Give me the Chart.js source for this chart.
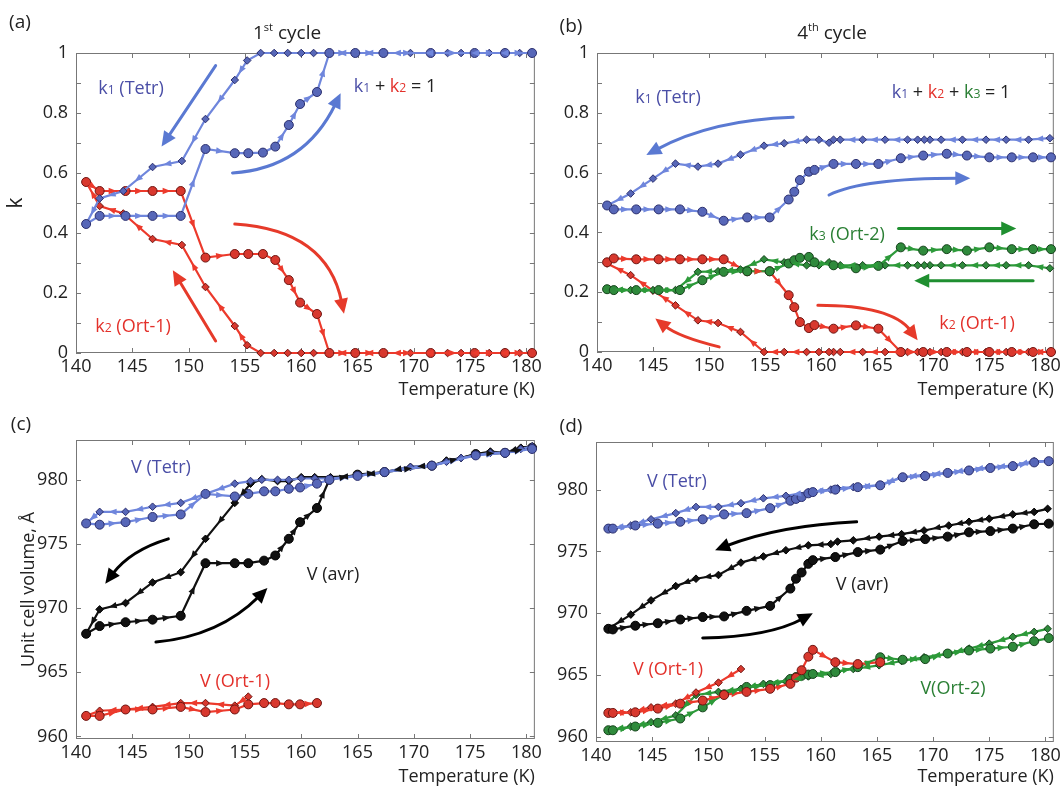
<!DOCTYPE html>
<html>
<head>
<meta charset="utf-8">
<script src="https://cdn.jsdelivr.net/npm/chart.js@4.4.1/dist/chart.umd.min.js"></script>
<style>
  body { margin: 0; background: #fff; }
  #fig { position: relative; width: 1064px; height: 788px; background: #fff; overflow: hidden;
         font-family: "Open Sans", sans-serif; color: #222; }
  #fig canvas { position: absolute; }
  .lbl { position: absolute; white-space: nowrap; font-size: 18px; line-height: 1;
         transform: translate(-50%, -50%); }
  .lbl .s { font-size: 68%; }
  .lbl sup { font-size: 58%; vertical-align: 0.7em; line-height: 0; }
  .big { font-size: 19px; }
  .tetr { color: #4a4ea6; }
  .ort1 { color: #e3312b; }
  .ort2 { color: #2a7f34; }
</style>
</head>
<body>
<div id="fig">
  <canvas id="chartC" width="545" height="398" style="left:0;top:390px"></canvas>
  <canvas id="chartD" width="544" height="398" style="left:520px;top:390px"></canvas>
  <canvas id="chartA" width="545" height="401" style="left:0;top:0"></canvas>
  <canvas id="chartB" width="544" height="401" style="left:520px;top:0"></canvas>

  <div class="lbl big" style="left:20px;top:21px">(a)</div>
  <div class="lbl big" style="left:287px;top:32px">1<sup>st</sup> cycle</div>
  <div class="lbl tetr" style="left:131px;top:87px">k<span class="s">1</span> (Tetr)</div>
  <div class="lbl" style="left:395px;top:85px"><span class="tetr">k<span class="s">1</span></span> + <span class="ort1">k<span class="s">2</span></span> = 1</div>
  <div class="lbl ort1" style="left:133px;top:325px">k<span class="s">2</span> (Ort-1)</div>

  <div class="lbl big" style="left:571px;top:25px">(b)</div>
  <div class="lbl big" style="left:832px;top:32px">4<sup>th</sup> cycle</div>
  <div class="lbl tetr" style="left:668px;top:96px">k<span class="s">1</span> (Tetr)</div>
  <div class="lbl" style="left:951px;top:91px"><span class="tetr">k<span class="s">1</span></span> + <span class="ort1">k<span class="s">2</span></span> + <span class="ort2">k<span class="s">3</span></span> = 1</div>
  <div class="lbl ort2" style="left:847px;top:233px">k<span class="s">3</span> (Ort-2)</div>
  <div class="lbl ort1" style="left:977px;top:322px">k<span class="s">2</span> (Ort-1)</div>

  <div class="lbl big" style="left:21px;top:423px">(c)</div>
  <div class="lbl tetr" style="left:161px;top:466px">V (Tetr)</div>
  <div class="lbl" style="left:333px;top:573px">V (avr)</div>
  <div class="lbl ort1" style="left:235px;top:680px">V (Ort-1)</div>

  <div class="lbl big" style="left:571px;top:425px">(d)</div>
  <div class="lbl tetr" style="left:677px;top:480px">V (Tetr)</div>
  <div class="lbl" style="left:862px;top:583px">V (avr)</div>
  <div class="lbl ort1" style="left:668px;top:668px">V (Ort-1)</div>
  <div class="lbl ort2" style="left:953px;top:687px">V(Ort-2)</div>
</div>

<script>
// axis ticks
const T_TICKS = [140, 145, 150, 155, 160, 165, 170, 175, 180];
const K_TICKS = [0, 0.2, 0.4, 0.6, 0.8, 1];
const K_MINOR = [0.1, 0.3, 0.5, 0.7, 0.9];
const V_TICKS = [960, 965, 970, 975, 980];

// (a) 1st cycle, phase fractions
const A_T_HEAT = [140.9, 142.1, 144.4, 146.8, 149.3, 151.5, 154.1, 155.3, 156.6, 157.7, 158.9, 159.9, 161.4, 162.5, 164.8, 167.3, 171.5, 175.4, 178.1, 180.5];
const A_K1_HEAT = [0.43, 0.457, 0.457, 0.457, 0.457, 0.68, 0.666, 0.666, 0.668, 0.688, 0.76, 0.83, 0.87, 1, 1, 1, 1, 1, 1, 1];
const A_K2_HEAT = [0.57, 0.54, 0.54, 0.54, 0.54, 0.318, 0.33, 0.33, 0.33, 0.31, 0.243, 0.168, 0.13, 0, 0, 0, 0, 0, 0, 0];
const A_T_COOL = [180.5, 179.4, 176.7, 174.2, 173.0, 169.7, 167.3, 164.8, 162.5, 161.1, 160.0, 158.8, 157.6, 156.4, 155.2, 154.1, 151.5, 149.4, 146.8, 144.2, 142.1, 140.9];
const A_K1_COOL = [1, 1, 1, 1, 1, 1, 1, 1, 1, 1, 1, 1, 1, 1, 0.975, 0.91, 0.78, 0.64, 0.62, 0.54, 0.515, 0.43];
const A_K2_COOL = [0, 0, 0, 0, 0, 0, 0, 0, 0, 0, 0, 0, 0, 0, 0.026, 0.09, 0.22, 0.36, 0.38, 0.465, 0.49, 0.57];

// (b) 4th cycle, phase fractions
const B_T_HEAT = [140.9, 141.5, 143.5, 145.5, 147.4, 149.4, 151.3, 153.4, 155.4, 157.1, 157.6, 158.1, 158.9, 159.4, 161.1, 163.1, 165.1, 167.1, 169.1, 171.2, 173.0, 175.0, 177.0, 178.9, 180.5];
const B_K1_HEAT = [0.49, 0.477, 0.477, 0.477, 0.477, 0.469, 0.439, 0.45, 0.45, 0.51, 0.536, 0.575, 0.603, 0.609, 0.629, 0.629, 0.629, 0.648, 0.657, 0.663, 0.657, 0.651, 0.651, 0.651, 0.651];
const B_K2_HEAT = [0.30, 0.313, 0.31, 0.31, 0.31, 0.31, 0.31, 0.27, 0.27, 0.19, 0.15, 0.10, 0.08, 0.09, 0.078, 0.089, 0.078, 0, 0, 0, 0, 0, 0, 0, 0];
const B_K3_HEAT = [0.21, 0.207, 0.207, 0.207, 0.207, 0.24, 0.268, 0.27, 0.27, 0.296, 0.307, 0.315, 0.318, 0.30, 0.29, 0.28, 0.288, 0.35, 0.339, 0.344, 0.339, 0.35, 0.344, 0.344, 0.344];
const B_T_COOL = [180.4, 178.5, 176.5, 174.7, 172.6, 170.7, 169.7, 169.2, 168.6, 167.7, 165.7, 163.7, 161.7, 161.1, 160.7, 159.8, 158.7, 156.7, 154.9, 152.8, 150.8, 149.0, 147.0, 145.0, 143.0, 140.9];
const B_K1_COOL = [0.715, 0.71, 0.71, 0.71, 0.71, 0.71, 0.71, 0.71, 0.71, 0.71, 0.71, 0.71, 0.71, 0.71, 0.70, 0.71, 0.71, 0.698, 0.69, 0.66, 0.63, 0.62, 0.63, 0.58, 0.53, 0.49];
const B_K2_COOL = [0, 0, 0, 0, 0, 0, 0, 0, 0, 0, 0, 0, 0, 0, 0, 0, 0, 0, 0, 0.067, 0.097, 0.106, 0.156, 0.205, 0.257, 0.296];
const B_K3_COOL = [0.28, 0.29, 0.29, 0.29, 0.29, 0.29, 0.29, 0.29, 0.29, 0.29, 0.29, 0.29, 0.29, 0.29, 0.30, 0.29, 0.29, 0.30, 0.31, 0.276, 0.27, 0.268, 0.207, 0.207, 0.207, 0.21];

// (c) 1st cycle, unit cell volume
const C_T_HEAT = [140.9, 142.1, 144.4, 146.8, 149.3, 151.5, 154.1, 155.3, 156.7, 157.7, 158.9, 159.9, 161.4, 162.5, 165.0, 167.4, 171.6, 175.5, 178.1, 180.5];
const C_TETR_HEAT = [976.6, 976.5, 976.7, 977.1, 977.3, 978.9, 978.7, 978.9, 979.1, 979.1, 979.3, 979.4, 979.7, 980.0, 980.3, 980.6, 981.1, 981.9, 982.1, 982.4];
const C_AVR_HEAT = [968.0, 968.6, 968.9, 969.1, 969.4, 973.5, 973.5, 973.5, 973.7, 974.1, 975.4, 976.7, 977.8, 980.0, 980.4, 980.6, 981.1, 982.0, 982.1, 982.5];
const C_ORT1_HEAT = [961.6, 961.6, 962.1, 962.1, 962.3, 961.9, 962.1, 962.5, 962.6, 962.6, 962.5, 962.5, 962.6];
const C_T_COOL = [180.5, 179.5, 178.1, 176.8, 175.5, 174.2, 172.9, 171.6, 169.7, 167.4, 165.0, 162.6, 161.2, 160.0, 158.9, 157.9, 156.5, 155.5, 154.1, 151.5, 149.3, 146.8, 144.4, 142.1, 140.9];
const C_TETR_COOL = [982.6, 982.4, 982.1, 982.1, 981.9, 981.7, 981.4, 981.1, 981.0, 980.6, 980.3, 980.1, 980.1, 980.1, 980.0, 980.0, 980.0, 979.9, 979.7, 978.9, 978.2, 977.9, 977.5, 977.5, 976.6];
const C_AVR_COOL = [982.6, 982.5, 982.1, 982.2, 982.0, 981.7, 981.5, 981.1, 981.0, 980.6, 980.3, 980.2, 980.2, 980.2, 979.9, 979.9, 980.05, 979.7, 978.2, 975.4, 972.8, 972.0, 970.4, 969.9, 968.0];
const C_T_ORT1_COOL = [155.3, 154.1, 151.5, 149.3, 146.8, 144.4, 142.1, 140.9];
const C_ORT1_COOL = [963.1, 962.4, 962.6, 962.6, 962.3, 962.1, 962.0, 961.6];

// (d) 4th cycle, unit cell volume
const D_T_HEAT = [141.1, 141.5, 143.5, 145.5, 147.5, 149.5, 151.4, 153.4, 155.5, 157.3, 157.8, 158.3, 158.9, 159.3, 161.3, 163.3, 165.3, 167.3, 169.3, 171.3, 173.2, 175.1, 177.1, 179.0, 180.3];
const D_TETR_HEAT = [976.85, 976.85, 977.1, 977.25, 977.4, 977.6, 978.0, 978.1, 978.5, 979.1, 979.25, 979.4, 979.7, 979.8, 980.0, 980.2, 980.35, 981.0, 981.1, 981.35, 981.55, 981.75, 981.9, 982.2, 982.3];
const D_AVR_HEAT = [968.75, 968.7, 969.0, 969.2, 969.5, 969.7, 969.75, 970.2, 970.6, 972.0, 972.8, 973.3, 974.0, 974.3, 974.55, 974.95, 975.15, 975.85, 976.0, 976.2, 976.55, 976.65, 976.85, 977.2, 977.25];
const D_ORT1_HEAT = [961.95, 961.95, 962.0, 962.3, 962.7, 962.95, 963.4, 963.65, 963.9, 964.3, 964.8, 965.4, 966.5, 967.05, 966.05, 965.9, 966.05];
const D_ORT2_HEAT = [960.55, 960.55, 960.85, 961.15, 961.5, 962.4, 963.45, 964.05, 964.2, 964.7, 964.85, 964.95, 965.05, 965.1, 965.25, 965.65, 966.45, 966.25, 966.3, 966.75, 967.0, 967.15, 967.3, 967.75, 968.0];
const D_T_COOL = [180.2, 179.0, 177.1, 175.0, 173.2, 171.4, 169.2, 167.2, 165.2, 162.9, 161.5, 160.9, 158.9, 156.9, 154.9, 152.9, 150.9, 148.9, 147.1, 144.9, 143.1, 141.1];
const D_TETR_COOL = [982.3, 982.3, 981.95, 981.8, 981.6, 981.35, 981.2, 981.0, 980.35, 980.2, 980.1, 980.0, 979.8, 979.5, 979.3, 978.9, 978.6, 978.6, 978.1, 977.6, 977.1, 976.85];
const D_AVR_COOL = [978.45, 978.2, 978.0, 977.65, 977.4, 977.1, 976.7, 976.4, 976.2, 975.9, 975.8, 975.6, 975.5, 975.1, 974.6, 974.1, 973.1, 972.8, 972.2, 971.05, 969.9, 968.75];
const D_ORT2_COOL = [968.75, 968.5, 968.1, 967.55, 967.15, 966.75, 966.45, 966.15, 965.8, 965.5, 965.3, 965.1, 964.9, 964.5, 964.3, 963.9, 963.65, 963.4, 961.75, 961.2, 960.85, 960.55];
const D_T_ORT1_COOL = [152.9, 150.9, 148.9, 147.1, 144.9, 143.1, 141.1];
const D_ORT1_COOL = [965.5, 964.4, 963.6, 962.7, 962.4, 962.0, 961.95];

const BLUE = { line: "#6f86dc", fill: "#5767b8", edge: "#2b2f6e", arrow: "#5a79d2" };
const RED = { line: "#ec3a2c", fill: "#d8382e", edge: "#6e1410", arrow: "#e63a2a" };
const GREEN = { line: "#2d9a3a", fill: "#2f8a3c", edge: "#15431b", arrow: "#1f8f30" };
const BLACK = { line: "#111111", fill: "#111111", edge: "#000000", arrow: "#000000" };

const FONT = { family: "'Open Sans', sans-serif", size: 18 };

function pts(xs, ys) {
  return ys.map((y, i) => ({ x: xs[i], y }));
}

// heating runs use circles, cooling runs use diamonds
function series(xs, ys, c, heating) {
  return {
    data: pts(xs, ys),
    showLine: true,
    borderColor: c.line,
    borderWidth: 2.2,
    pointStyle: heating ? "circle" : "rectRot",
    pointRadius: heating ? 4.5 : 3.8,
    pointBackgroundColor: c.fill,
    pointBorderColor: c.edge,
    pointBorderWidth: 1,
    clip: false,
    dirMarks: true,
  };
}

// box frame with inward ticks on all four sides
function frameTicks(xTicks, yTicks) {
  return {
    id: "frameTicks",
    beforeDatasetsDraw(chart) {
      const { ctx, chartArea: a, scales } = chart;
      ctx.save();
      ctx.strokeStyle = "#777";
      ctx.lineWidth = 1;
      ctx.strokeRect(a.left + 0.5, a.top + 0.5, a.right - a.left - 1, a.bottom - a.top - 1);
      ctx.beginPath();
      xTicks.forEach((v) => {
        const px = Math.round(scales.x.getPixelForValue(v)) + 0.5;
        ctx.moveTo(px, a.bottom); ctx.lineTo(px, a.bottom - 5);
        ctx.moveTo(px, a.top); ctx.lineTo(px, a.top + 5);
      });
      yTicks.forEach((v) => {
        const py = Math.round(scales.y.getPixelForValue(v)) + 0.5;
        ctx.moveTo(a.left, py); ctx.lineTo(a.left + 5, py);
        ctx.moveTo(a.right, py); ctx.lineTo(a.right - 5, py);
      });
      ctx.stroke();
      ctx.restore();
    },
  };
}

// small arrowheads along each segment showing run direction
const dirMarks = {
  id: "dirMarks",
  afterDatasetsDraw(chart) {
    const ctx = chart.ctx;
    chart.data.datasets.forEach((ds, i) => {
      if (!ds.dirMarks) return;
      const els = chart.getDatasetMeta(i).data;
      ctx.save();
      ctx.fillStyle = ds.borderColor;
      for (let k = 0; k < els.length - 1; k++) {
        const a = els[k], b = els[k + 1];
        const dx = b.x - a.x, dy = b.y - a.y;
        if (Math.hypot(dx, dy) < 16) continue;
        const ang = Math.atan2(dy, dx);
        const cx = (a.x + b.x) / 2, cy = (a.y + b.y) / 2;
        const c = Math.cos(ang), s = Math.sin(ang);
        ctx.beginPath();
        ctx.moveTo(cx + 4 * c, cy + 4 * s);
        ctx.lineTo(cx - 4 * c - 3.2 * s, cy - 4 * s + 3.2 * c);
        ctx.lineTo(cx - 4 * c + 3.2 * s, cy - 4 * s - 3.2 * c);
        ctx.closePath();
        ctx.fill();
      }
      ctx.restore();
    });
  },
};

// curved guide arrows given in data units
function guideArrows(list) {
  return {
    id: "guideArrows",
    afterDatasetsDraw(chart) {
      const { ctx, scales: { x, y } } = chart;
      list.forEach((ar) => {
        const p0 = [x.getPixelForValue(ar.from[0]), y.getPixelForValue(ar.from[1])];
        const p2 = [x.getPixelForValue(ar.to[0]), y.getPixelForValue(ar.to[1])];
        const p1 = ar.via
          ? [x.getPixelForValue(ar.via[0]), y.getPixelForValue(ar.via[1])]
          : [(p0[0] + p2[0]) / 2, (p0[1] + p2[1]) / 2];
        const ang = Math.atan2(p2[1] - p1[1], p2[0] - p1[0]);
        const c = Math.cos(ang), s = Math.sin(ang);
        const head = 15, hw = 7;
        ctx.save();
        ctx.strokeStyle = ar.color;
        ctx.fillStyle = ar.color;
        ctx.lineWidth = 3;
        ctx.lineCap = "round";
        ctx.beginPath();
        ctx.moveTo(p0[0], p0[1]);
        ctx.quadraticCurveTo(p1[0], p1[1], p2[0] - head * 0.8 * c, p2[1] - head * 0.8 * s);
        ctx.stroke();
        ctx.beginPath();
        ctx.moveTo(p2[0], p2[1]);
        ctx.lineTo(p2[0] - head * c - hw * s, p2[1] - head * s + hw * c);
        ctx.lineTo(p2[0] - head * c + hw * s, p2[1] - head * s - hw * c);
        ctx.closePath();
        ctx.fill();
        ctx.restore();
      });
    },
  };
}

function makePanel(id, cfg) {
  const canvas = document.getElementById(id);
  const g = cfg.area;
  const yAll = cfg.minor ? cfg.yTicks.concat(cfg.minor) : cfg.yTicks;
  return new Chart(canvas, {
    type: "scatter",
    data: { datasets: cfg.datasets },
    options: {
      responsive: false,
      animation: false,
      events: [],
      layout: { padding: { top: g.top, right: canvas.width - g.right, left: 0, bottom: 0 } },
      plugins: { legend: { display: false }, tooltip: { enabled: false } },
      scales: {
        x: {
          type: "linear",
          min: 140,
          max: 180.75,
          afterBuildTicks: (s) => { s.ticks = T_TICKS.map((v) => ({ value: v })); },
          afterFit: (s) => { s.height = canvas.height - g.bottom; },
          grid: { display: false, drawTicks: false },
          border: { display: false },
          ticks: { font: FONT, color: "#222", padding: 3, autoSkip: false, maxRotation: 0, callback: (v) => String(v) },
          title: { display: true, text: "Temperature (K)", align: "end", font: FONT, color: "#222", padding: { top: 0, bottom: 0 } },
        },
        y: {
          type: "linear",
          min: cfg.yMin,
          max: cfg.yMax,
          afterBuildTicks: (s) => { s.ticks = cfg.yTicks.map((v) => ({ value: v })); },
          afterFit: (s) => { s.width = g.left; },
          grid: { display: false, drawTicks: false },
          border: { display: false },
          ticks: { font: FONT, color: "#222", padding: 8, autoSkip: false, callback: (v) => String(+v.toFixed(2)) },
          title: cfg.yTitle
            ? { display: true, text: cfg.yTitle, font: cfg.yTitleFont || FONT, color: "#222", padding: { top: cfg.yTitlePad, bottom: 0 } }
            : { display: false },
        },
      },
    },
    plugins: [frameTicks(T_TICKS, yAll), dirMarks, guideArrows(cfg.arrows)],
  });
}

makePanel("chartA", {
  area: { left: 76, top: 53, right: 537, bottom: 353 },
  yMin: 0, yMax: 1, yTicks: K_TICKS, minor: K_MINOR,
  yTitle: "k", yTitleFont: { family: FONT.family, size: 21 }, yTitlePad: 3,
  datasets: [
    series(A_T_HEAT, A_K1_HEAT, BLUE, true),
    series(A_T_COOL, A_K1_COOL, BLUE, false),
    series(A_T_HEAT, A_K2_HEAT, RED, true),
    series(A_T_COOL, A_K2_COOL, RED, false),
  ],
  arrows: [
    { from: [152.4, 0.958], to: [147.6, 0.688], color: BLUE.arrow },
    { from: [153.9, 0.60], via: [160.3, 0.616], to: [163.5, 0.866], color: BLUE.arrow },
    { from: [154.1, 0.43], via: [162.3, 0.41], to: [163.8, 0.131], color: RED.arrow },
    { from: [152.4, 0.04], to: [148.6, 0.276], color: RED.arrow },
  ],
});

makePanel("chartB", {
  area: { left: 77, top: 53, right: 535, bottom: 352 },
  yMin: 0, yMax: 1, yTicks: K_TICKS, minor: K_MINOR,
  datasets: [
    series(B_T_HEAT, B_K1_HEAT, BLUE, true),
    series(B_T_COOL, B_K1_COOL, BLUE, false),
    series(B_T_HEAT, B_K3_HEAT, GREEN, true),
    series(B_T_COOL, B_K3_COOL, GREEN, false),
    series(B_T_HEAT, B_K2_HEAT, RED, true),
    series(B_T_COOL, B_K2_COOL, RED, false),
  ],
  arrows: [
    { from: [157.5, 0.785], via: [150.3, 0.777], to: [144.4, 0.659], color: BLUE.arrow },
    { from: [160.7, 0.525], via: [163.7, 0.581], to: [173.3, 0.581], color: BLUE.arrow },
    { from: [166.9, 0.413], to: [177.4, 0.413], color: GREEN.arrow },
    { from: [178.9, 0.238], to: [168.3, 0.238], color: GREEN.arrow },
    { from: [159.7, 0.156], via: [166.3, 0.156], to: [168.6, 0.039], color: RED.arrow },
    { from: [150.9, 0.017], via: [147.3, 0.05], to: [145.2, 0.112], color: RED.arrow },
  ],
});

makePanel("chartC", {
  area: { left: 76, top: 50, right: 537, bottom: 349 },
  yMin: 959.8, yMax: 983.1, yTicks: V_TICKS,
  yTitle: "Unit cell volume, Å", yTitlePad: 18,
  datasets: [
    series(C_T_HEAT, C_TETR_HEAT, BLUE, true),
    series(C_T_COOL, C_TETR_COOL, BLUE, false),
    series(C_T_HEAT, C_AVR_HEAT, BLACK, true),
    series(C_T_COOL, C_AVR_COOL, BLACK, false),
    series(C_T_HEAT, C_ORT1_HEAT, RED, true),
    series(C_T_ORT1_COOL, C_ORT1_COOL, RED, false),
  ],
  arrows: [
    { from: [148.2, 975.4], via: [144.8, 974.5], to: [142.6, 971.9], color: BLACK.arrow },
    { from: [147.1, 967.35], via: [152.7, 967.8], to: [157.0, 971.56], color: BLACK.arrow },
  ],
});

makePanel("chartD", {
  area: { left: 76, top: 52, right: 535, bottom: 352 },
  yMin: 959.6, yMax: 983.85, yTicks: V_TICKS,
  datasets: [
    series(D_T_HEAT, D_TETR_HEAT, BLUE, true),
    series(D_T_COOL, D_TETR_COOL, BLUE, false),
    series(D_T_HEAT, D_AVR_HEAT, BLACK, true),
    series(D_T_COOL, D_AVR_COOL, BLACK, false),
    series(D_T_HEAT, D_ORT1_HEAT, RED, true),
    series(D_T_ORT1_COOL, D_ORT1_COOL, RED, false),
    series(D_T_HEAT, D_ORT2_HEAT, GREEN, true),
    series(D_T_COOL, D_ORT2_COOL, GREEN, false),
  ],
  arrows: [
    { from: [163.2, 977.4], via: [156.3, 977.1], to: [150.6, 975.1], color: BLACK.arrow },
    { from: [149.5, 968.0], via: [155.4, 968.1], to: [159.3, 970.0], color: BLACK.arrow },
  ],
});
</script>
</body>
</html>
